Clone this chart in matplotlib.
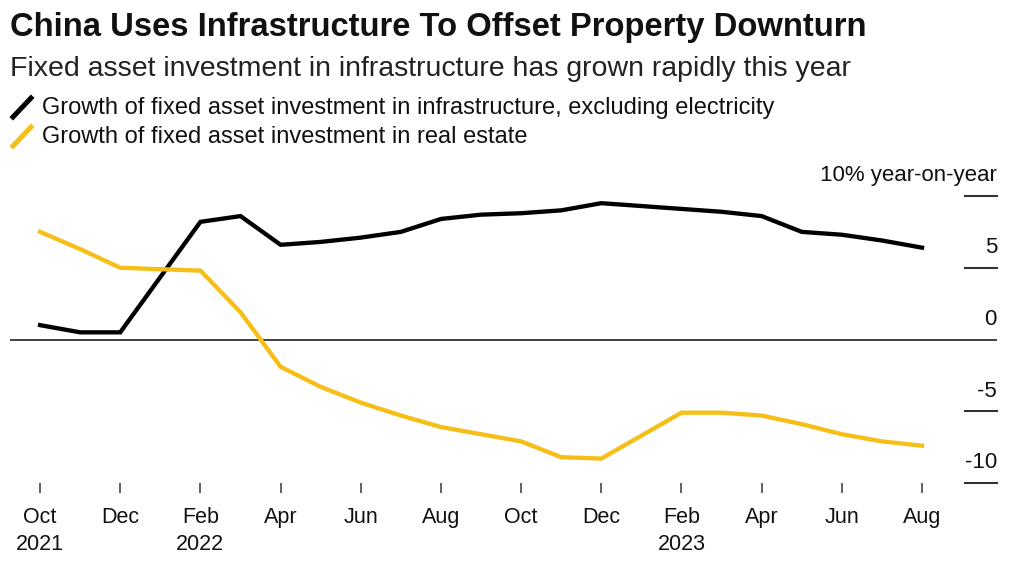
import matplotlib.pyplot as plt
from matplotlib.lines import Line2D

plt.rcParams['font.family'] = ['Liberation Sans', 'DejaVu Sans']

# months since Oct 2021 (Jan is reported together with Feb, so it is skipped)
months = [0, 1, 2, 4, 5, 6, 7, 8, 9, 10, 11, 12, 13, 14, 16, 17, 18, 19, 20, 21, 22]
infra = [1.0, 0.5, 0.5, 8.2, 8.6, 6.6, 6.8, 7.1, 7.5, 8.4, 8.7, 8.8, 9.0, 9.5,
         9.1, 8.9, 8.6, 7.5, 7.3, 6.9, 6.4]
real_estate = [7.5, 6.3, 5.0, 4.8, 1.9, -1.9, -3.3, -4.4, -5.3, -6.1, -6.6, -7.1,
               -8.2, -8.3, -5.1, -5.1, -5.3, -5.9, -6.6, -7.1, -7.4]

tick_months = [0, 2, 4, 6, 8, 10, 12, 14, 16, 18, 20, 22]
tick_labels = ['Oct\n2021', 'Dec', 'Feb\n2022', 'Apr', 'Jun', 'Aug', 'Oct', 'Dec',
               'Feb\n2023', 'Apr', 'Jun', 'Aug']
y_ticks = [-10, -5, 0, 5, 10]
y_labels = ['-10', '-5', '0', '5', '10% year-on-year']

black = '#000000'
yellow = '#F5BF17'

W, H = 1020, 571
fig = plt.figure(figsize=(W / 100, H / 100), dpi=100)
ax = fig.add_axes([10 / W, 1 - 483 / H, 987 / W, (483 - 196) / H])

ax.plot(months, infra, color=black, lw=3.1, solid_joinstyle='miter', zorder=3)
ax.plot(months, real_estate, color=yellow, lw=3.1, solid_joinstyle='miter', zorder=3)

ax.set_xlim(-0.75, 23.87)
ax.set_ylim(-10, 10)
ax.axhline(0, color='#333333', lw=1.3, zorder=2)

# right-hand value ticks
for v, lab in zip(y_ticks, y_labels):
    if v != 0:
        ax.plot([23.07, 23.87], [v, v], color='#333333', lw=1.5, clip_on=False)
    ax.annotate(lab, xy=(23.87, v), xytext=(0, 10.5), textcoords='offset points',
                ha='right', va='baseline', fontsize=16, color='#111111',
                annotation_clip=False)

for s in ax.spines.values():
    s.set_visible(False)
ax.set_yticks([])
ax.set_xticks(tick_months)
ax.set_xticklabels(tick_labels, fontsize=15.5, color='#111111', linespacing=1.38)
ax.tick_params(axis='x', length=7, width=1.3, color='#555555', pad=10)

# header
fig.text(10 / W, 1 - 36 / H, 'China Uses Infrastructure To Offset Property Downturn',
         fontsize=23.6, fontweight='bold', va='baseline', color='#111111')
fig.text(10 / W, 1 - 76 / H,
         'Fixed asset investment in infrastructure has grown rapidly this year',
         fontsize=20.5, va='baseline', color='#222222')

legend_items = [('Growth of fixed asset investment in infrastructure, excluding electricity', black, 114),
                ('Growth of fixed asset investment in real estate', yellow, 143)]
for text, col, base in legend_items:
    fig.add_artist(Line2D([13 / W, 31 / W], [1 - (base + 3) / H, 1 - (base - 16) / H],
                          color=col, lw=3.6, transform=fig.transFigure))
    fig.text(42 / W, 1 - base / H, text, fontsize=17, va='baseline', color='#111111')

fig.savefig('out.png', dpi=100, facecolor='white')
